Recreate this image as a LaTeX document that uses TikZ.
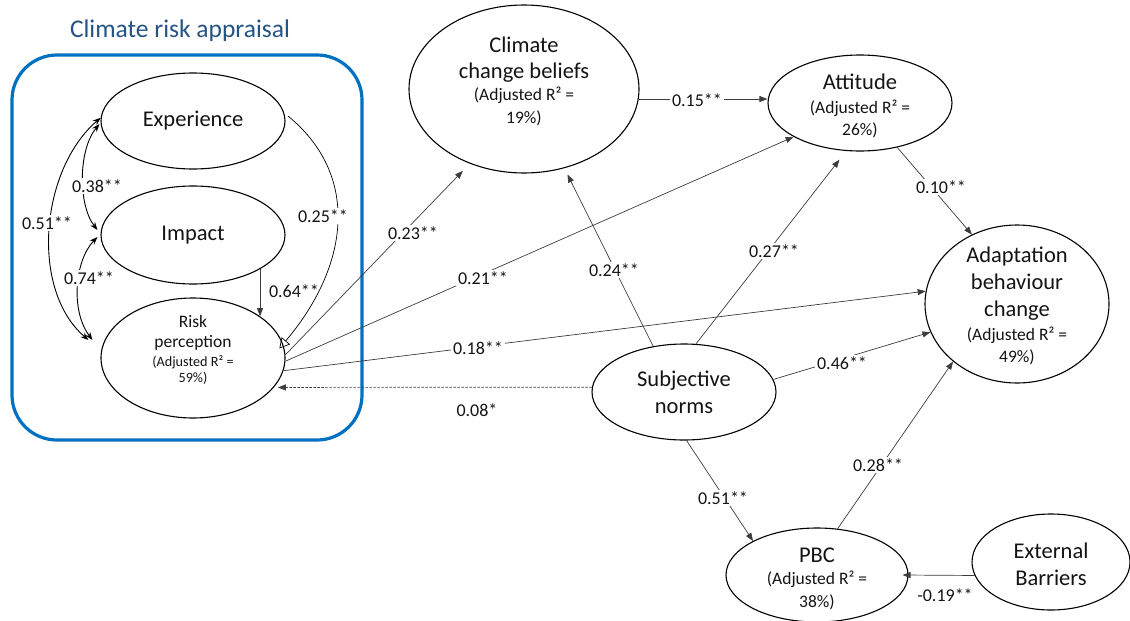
\documentclass[tikz,border=0pt]{standalone}
\usepackage{fontspec}
\setmainfont{Carlito}
\usetikzlibrary{shapes.geometric,arrows.meta}
\definecolor{boxblue}{RGB}{0,112,192}
\definecolor{titleblue}{RGB}{38,84,130}
\definecolor{ink}{RGB}{20,20,20}
\definecolor{edgecol}{RGB}{60,60,60}
\newcommand\myBig{\fontsize{22.5}{27}\selectfont}
\newcommand\mySmall{\fontsize{17.5}{21}\selectfont}
\newcommand\myRp{\fontsize{17.5}{20.5}\selectfont}
\newcommand\myRps{\fontsize{14.2}{17}\selectfont}
\newcommand\myLab{\fontsize{18}{20}\selectfont}
\begin{document}
\begin{tikzpicture}[x=1pt,y=-1pt,
  ell/.style={ellipse, draw=black, line width=1.1pt, inner sep=0pt},
  txt/.style={align=center, text=ink, font=\myBig, inner sep=0pt},
  lab/.style={font=\myLab, text=ink, fill=white, inner sep=2pt},
  conn/.style={draw=edgecol, line width=0.7pt, -{Triangle[length=8pt,width=6pt]}},
  dbl/.style={draw=black, line width=0.9pt, {Stealth[length=8pt,width=6pt]}-{Stealth[length=8pt,width=6pt]}},
]
\useasboundingbox (0,0) rectangle (1130,621);

% container
\node[draw=boxblue, line width=3.2pt, rounded corners=45pt, minimum width=350pt, minimum height=385pt, inner sep=0pt] (box) at (187,247.5) {};
\node[text=titleblue, font=\fontsize{25.5}{28}\selectfont] (title) at (180,31) {Climate risk appraisal};

% ellipses
\node[ell, minimum width=184pt, minimum height=96pt, label={[txt]center:{Experience}}] (exp) at (193,121) {};
\node[ell, minimum width=184pt, minimum height=98pt, label={[txt]center:{Impact}}] (imp) at (193,235) {};
\node[ell, minimum width=184pt, minimum height=120pt, label={[txt, font=\myRp, yshift=8pt]center:{Risk\\perception\\[-2pt]{\myRps (Adjusted R² =}\\[-4pt]{\myRps 59\%)}}}] (rp) at (193,358) {};
\node[ell, minimum width=230pt, minimum height=168pt, label={[txt, yshift=8pt]center:{Climate\\[-1pt]change beliefs\\[-5pt]{\mySmall (Adjusted R² =}\\[-4pt]{\mySmall 19\%)}}}] (ccb) at (524,89) {};
\node[ell, minimum width=184pt, minimum height=96pt, label={[txt, yshift=-3pt]center:{Attitude\\[-3pt]{\mySmall (Adjusted R² =}\\[-5pt]{\mySmall 26\%)}}}] (att) at (860,103) {};
\node[ell, minimum width=184pt, minimum height=158pt, label={[txt, yshift=-2pt]center:{Adaptation\\behaviour\\change\\[-3pt]{\mySmall (Adjusted R² =}\\[-5pt]{\mySmall 49\%)}}}] (abc) at (1017,304) {};
\node[ell, minimum width=184pt, minimum height=96pt, label={[txt]center:{Subjective\\norms}}] (sn) at (684,392) {};
\node[ell, minimum width=182pt, minimum height=94pt, label={[txt, yshift=-4pt]center:{PBC\\[-5pt]{\mySmall (Adjusted R² =}\\[-4pt]{\mySmall 38\%)}}}] (pbc) at (817,575) {};
\node[ell, minimum width=158pt, minimum height=96pt, label={[txt, yshift=-2pt]center:{External\\Barriers}}] (ext) at (1051,562) {};

% correlations inside the appraisal box
\draw[dbl] (exp.178) .. controls (40,170) and (30,290) .. ([xshift=-12pt,yshift=18pt]rp.west) node[lab] at (47,223) {0.51**};
\draw[dbl] ([xshift=-1pt,yshift=-3pt]exp.west) .. controls (78,150) and (78,205) .. ([xshift=-3pt,yshift=5pt]imp.west) node[lab] at (97,186) {0.38**};
\draw[dbl] ([xshift=-3pt,yshift=-2pt]imp.west) .. controls (75,260) and (70,310) .. ([xshift=-8pt,yshift=18pt]rp.west) node[lab] at (89,278) {0.74**};

% paths into risk perception
\draw[draw=black, line width=0.7pt, -{Triangle[open,length=10pt,width=11pt]}, shorten <=5pt] (exp.5) .. controls (360,175) and (350,265) .. ([xshift=-5pt]rp.6) node[lab] at (323,216) {0.25**};
\draw[conn] (imp.-27) -- (imp.-27 |- rp.32) node[lab, fill=none] at (294,291) {0.64**};

% paths from risk perception
\draw[conn, shorten >=10pt] (rp.2) -- (ccb.-126) node[lab] at (413,233) {0.23**};
\draw[conn] (rp.-2) -- (att.-153) node[lab] at (483,278) {0.21**};
\draw[conn] (rp.-8) -- (abc.172) node[lab] at (478,348) {0.18**};

% subjective norms
\draw[conn, dash pattern=on 2.5pt off 1.5pt] (sn.177) -- ([xshift=4pt]rp.-20) node[lab, fill=none] at (477,410) {0.08*};
\draw[conn, shorten >=7pt] (sn.124) -- (ccb.-63) node[lab] at (614,270) {0.24**};
\draw[conn, shorten >=11pt] (sn.76) -- (att.-106) node[lab] at (774,251) {0.27**};
\draw[conn] (sn.8) -- (abc.-162) node[lab] at (842,363) {0.46**};
\draw[conn] (sn.-87) -- (pbc.152) node[lab] at (723,498) {0.51**};

% remaining paths
\draw[conn] (ccb.-5) -- (ccb.-5 -| att.west) node[lab] at (697,100) {0.15**};
\draw[conn] (att.-50) -- (abc.123.5) node[lab] at (941,187) {0.10**};
\draw[conn] (pbc.66) -- (abc.-138) node[lab] at (878,465) {0.28**};
\draw[conn] (ext.-170) -- ([xshift=-6pt]pbc.east) node[lab, fill=none] at (945,595) {-0.19**};
\end{tikzpicture}
\end{document}
